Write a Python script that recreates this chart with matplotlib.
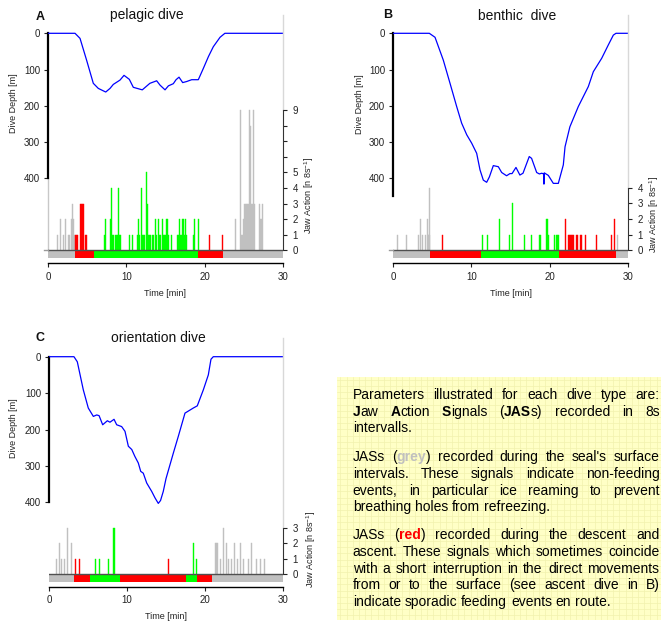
import matplotlib
matplotlib.use('Agg')
import matplotlib.pyplot as plt
import numpy as np

plt.rcParams['font.family'] = ['Liberation Sans', 'DejaVu Sans']
plt.rcParams['mathtext.default'] = 'regular'

W, H = 661, 623
fig = plt.figure(figsize=(W / 100, H / 100), dpi=100)

# ---------------- data ----------------
panel_letters = ['A', 'B', 'C']
panel_titles = ['pelagic dive', 'benthic  dive', 'orientation dive']
time_ticks = [0, 10, 20, 30]
depth_ticks = [0, 100, 200, 300, 400]
jaw_ticks_A = [0, 1, 2, 3, 4, 5, 6, 7, 8, 9]
jaw_labels_A = ['0', '1', '2', '3', '4', '5', '', '', '', '9']
jaw_ticks_B = [0, 1, 2, 3, 4]
jaw_labels_B = ['0', '1', '2', '3', '4']
jaw_ticks_C = [0, 1, 2, 3]
jaw_labels_C = ['0', '1', '2', '3']

# dive profiles: time [min], depth [m]
A_prof_t = [0, 3.42, 4.06, 4.9, 5.76, 6.4, 7.35, 7.9, 8.32, 9.18, 9.69, 10.37, 10.88,
            12.03, 13.0, 13.87, 14.3, 14.94, 15.37, 16.0, 16.35, 16.73, 17.2, 17.71,
            18.35, 19.2, 19.84, 20.5, 21.12, 21.98, 22.6, 30]
A_prof_d = [0, 0, 14, 74, 138, 152, 162, 152, 141, 129, 116, 127, 149,
            156, 138, 131, 143, 156, 145, 139, 128, 121, 136, 133,
            128, 128, 97, 64, 37, 11, 0, 0]

B_prof_t = [0, 4.61, 5.34, 6.4, 7.26, 8.11, 8.75, 9.4, 10.03, 10.67, 11.1, 11.52, 11.95,
            12.3, 12.8, 13.44, 13.87, 14.5, 14.93, 15.2, 15.7, 16.2, 16.6, 17.4, 17.7,
            18.35, 18.7, 19.0, 19.25, 19.28, 19.32, 19.84, 20.48, 21.12, 21.76, 21.98,
            22.6, 23.68, 24.96, 25.6, 26.67, 27.52, 28.16, 28.5, 30]
B_prof_d = [0, 0, 11, 74, 138, 202, 248, 280, 303, 331, 377, 405, 411,
            396, 365, 368, 384, 393, 387, 387, 370, 391, 386, 340, 345,
            384, 388, 386, 388, 416, 385, 392, 414, 414, 363, 313,
            258, 202, 147, 106, 69, 32, 5, 0, 0]

C_prof_t = [0, 3.17, 3.6, 4.37, 5.01, 5.66, 6.1, 6.4, 6.86, 7.46, 7.8, 8.32, 8.66, 9.3,
            9.73, 10.16, 10.6, 11.0, 11.44, 11.75, 12.08, 12.52, 13.16, 13.59, 14.01,
            14.3, 14.65, 15.0, 15.94, 16.58, 17.44, 18.51, 19.02, 19.8, 20.44, 20.78,
            21.08, 30]
C_prof_d = [0, 0, 14, 91, 141, 164, 160, 162, 187, 176, 180, 172, 187, 192,
            205, 246, 255, 274, 292, 315, 320, 347, 370, 388, 403,
            395, 370, 335, 265, 219, 155, 141, 135, 91, 50, 7,
            0, 0]

# jaw action signals: start time of 8 s interval [min], count
A_grey_t = [1.15, 1.54, 1.93, 2.12, 2.5, 2.7, 2.9, 3.03, 3.16, 3.29,
            23.94, 24.57, 24.72, 24.85, 24.98, 25.11, 25.24, 25.37, 25.5, 25.7, 25.84,
            25.97, 26.1, 26.24, 26.37, 26.97, 27.1, 27.23, 27.36]
A_grey_h = [1, 2, 1, 2, 1, 1, 2, 3, 2, 1,
            2, 9, 1, 1, 2, 3, 3, 3, 3, 9, 8,
            3, 3, 9, 3, 3, 2, 2, 3]
A_red_t = [3.47, 3.6, 3.73, 4.1, 4.23, 4.36, 4.49, 4.66, 4.82, 20.53, 22.19]
A_red_h = [1, 1, 1, 3, 3, 3, 3, 1, 1, 1, 1]
A_green_t = [7.17, 7.3, 7.94, 8.07, 8.2, 8.33, 8.6, 8.73, 8.87, 8.95, 9.1, 9.23, 10.33,
             10.75, 11.35, 11.52, 11.65, 11.9, 12.03, 12.17, 12.3, 12.5, 12.63, 12.77,
             12.9, 13.03, 13.3, 13.43, 13.7, 13.83, 14.08, 14.21, 14.34, 14.5, 14.63,
             14.76, 14.93, 15.07, 15.2, 15.33, 15.74, 16.47, 16.6, 16.73, 16.86, 16.99,
             17.12, 17.25, 17.38, 17.5, 17.63, 18.52, 18.69, 19.1]
A_green_h = [1, 2, 2, 4, 1, 1, 1, 1, 1, 4, 1, 1, 1,
             1, 1, 2, 1, 4, 1, 1, 1, 5, 3, 1,
             1, 1, 1, 1, 2, 1, 2, 1, 1, 2, 1,
             1, 1, 2, 2, 1, 1, 1, 1, 2, 1, 1,
             2, 2, 1, 2, 1, 1, 2, 2]
A_phase_edges = [0, 3.4, 5.85, 19.2, 22.3, 30]
A_phase_kind = ['grey', 'red', 'green', 'red', 'grey']

B_grey_t = [0.51, 1.66, 3.2, 3.43, 3.7, 4.06, 4.25, 4.38, 4.5, 4.62, 28.6]
B_grey_h = [1, 1, 1, 2, 1, 1, 2, 1, 1, 4, 1]
B_red_t = [6.27, 22.02, 22.36, 22.5, 22.63, 22.76, 22.9, 23.03, 23.34, 23.55, 23.86,
           23.99, 24.54, 25.98, 27.9, 28.2]
B_red_h = [1, 2, 1, 1, 1, 1, 1, 1, 1, 1, 1, 1, 1, 1, 1, 2]
B_green_t = [11.35, 12.03, 13.47, 14.8, 15.13, 16.69, 17.67, 18.7, 18.83, 19.5, 19.63,
             19.76, 20.53, 20.79, 20.92, 21.05]
B_green_h = [1, 1, 2, 1, 3, 1, 1, 1, 1, 2, 2, 1, 1, 1, 1, 1]
B_phase_edges = [0, 4.7, 11.22, 21.17, 28.46, 30]
B_phase_kind = ['grey', 'red', 'green', 'red', 'grey']

C_grey_t = [0.9, 1.29, 1.55, 1.93, 2.25, 2.75,
            21.3, 21.45, 21.6, 21.94, 22.3, 22.7, 23.0, 23.4, 23.75, 24.1, 24.5, 24.9,
            25.5, 25.9, 26.6, 27.1, 27.6]
C_grey_h = [1, 2, 1, 1, 3, 2,
            2, 2, 2, 1, 3, 2, 1, 1, 2, 1, 2, 1,
            1, 2, 1, 1, 1]
C_red_t = [3.33, 3.84, 15.24]
C_red_h = [1, 1, 1]
C_green_t = [5.87, 6.36, 7.58, 8.25, 18.5, 18.8]
C_green_h = [1, 1, 1, 3, 2, 1]
C_phase_edges = [0, 3.17, 5.23, 9.09, 17.57, 18.98, 20.87, 30]
C_phase_kind = ['grey', 'red', 'green', 'red', 'green', 'red', 'grey']

COL = {'grey': '#C0C0C0', 'red': '#FF0000', 'green': '#00FF00'}
INTERVAL = 8 / 60.0  # 8 s in minutes


def fx(px):
    return px / W


def fy(py):
    return 1 - py / H


def panel(x0, x1, top, d0y, ppm, j0y, ppu, bottom, depth_end,
          prof_t, prof_d, bars, edges, kinds, jticks, jlabels, left_stub, grey_stem):
    ax = fig.add_axes([fx(x0), fy(bottom), (x1 - x0) / W, (bottom - top) / H])
    ax.set_xlim(0, 30)
    ax.set_ylim((bottom - d0y) / ppm, (top - d0y) / ppm)
    ax.patch.set_visible(False)
    ax.plot(prof_t, prof_d, color='#0000FF', lw=0.9, zorder=3)
    for s in ['top', 'right']:
        ax.spines[s].set_visible(False)
    ax.spines['left'].set_bounds(0, depth_end)
    ax.spines['left'].set_linewidth(1.6)
    ax.spines['bottom'].set_bounds(0, 30)
    ax.spines['bottom'].set_linewidth(1.0)
    ax.set_xticks(time_ticks)
    ax.set_yticks(depth_ticks)
    ax.tick_params(axis='both', direction='out', length=3, width=0.8,
                   labelsize=7, pad=3, colors='#222222')
    if grey_stem:
        dz = (j0y - d0y) / ppm
        ax.plot([0, 0], [400, dz], color='#C8C8C8', lw=1.0, clip_on=False, zorder=1)

    ax2 = ax.twinx()
    ax2.set_ylim((j0y - bottom) / ppu, (j0y - top) / ppu)
    for s in ['top', 'left', 'bottom']:
        ax2.spines[s].set_visible(False)
    ax2.spines['right'].set_bounds(0, jticks[-1])
    ax2.spines['right'].set_color('#333333')
    ax2.set_yticks(jticks)
    ax2.set_yticklabels(jlabels)
    ax2.tick_params(axis='y', direction='out', length=3, width=0.8,
                    labelsize=7, pad=4, colors='#222222')
    # phase strip
    for a, b, k in zip(edges[:-1], edges[1:], kinds):
        ax2.bar(a, 0.47, width=b - a, bottom=-0.47, align='edge',
                color=COL[k], lw=0, zorder=2)
    # jaw action bars
    for (tt, hh, k) in bars:
        ax2.bar(tt, hh, width=INTERVAL, align='edge', color=COL[k],
                edgecolor=COL[k], lw=0.3, zorder=2)
    ax2.plot([0, 30], [0, 0], color='#505050', lw=1.0, zorder=3)
    if left_stub:
        ax2.plot([-0.6, 0], [0, 0], color='#999999', lw=1.0, clip_on=False, zorder=3)
    # light line above the jaw axis
    ax2.plot([30, 30], [jticks[-1], (j0y - (top + 5)) / ppu], color='#D8D8D8',
             lw=1.0, clip_on=False, zorder=1)
    return ax, ax2


panel(48.3, 282.7, 10, 33.3, 0.3625, 250.3, 15.6, 263.3, 400,
      A_prof_t, A_prof_d,
      [(A_grey_t, A_grey_h, 'grey'), (A_red_t, A_red_h, 'red'), (A_green_t, A_green_h, 'green')],
      A_phase_edges, A_phase_kind, jaw_ticks_A, jaw_labels_A, True, True)
panel(393.3, 627.7, 10, 33.3, 0.3625, 250.3, 15.65, 263.3, 450,
      B_prof_t, B_prof_d,
      [(B_grey_t, B_grey_h, 'grey'), (B_red_t, B_red_h, 'red'), (B_green_t, B_green_h, 'green')],
      B_phase_edges, B_phase_kind, jaw_ticks_B, jaw_labels_B, True, False)
panel(49.3, 282.7, 333, 356.7, 0.364, 574.3, 15.55, 586.7, 400,
      C_prof_t, C_prof_d,
      [(C_grey_t, C_grey_h, 'grey'), (C_red_t, C_red_h, 'red'), (C_green_t, C_green_h, 'green')],
      C_phase_edges, C_phase_kind, jaw_ticks_C, jaw_labels_C, False, False)

# ---------------- panel texts ----------------
title_pos = [(147, 15), (516.7, 16), (158.3, 338.3)]
letter_pos = [(40, 17), (387.5, 15.5), (40, 338)]
for (tx, ty), t in zip(title_pos, panel_titles):
    fig.text(fx(tx), fy(ty), t, ha='center', va='center', fontsize=10, color='#111111')
for (tx, ty), t in zip(letter_pos, panel_letters):
    fig.text(fx(tx), fy(ty), t, ha='center', va='center', fontsize=9,
             fontweight='bold', color='#111111')

for (tx, ty) in [(13, 103.5), (359.3, 104), (13, 428)]:
    fig.text(fx(tx), fy(ty), 'Dive Depth [m]', rotation=90, ha='center', va='center',
             fontsize=6.5, color='#222222')
for (tx, ty) in [(309, 195), (654.5, 214), (311, 549)]:
    fig.text(fx(tx), fy(ty), 'Jaw Action [n 8s$^{-1}$]', rotation=90, ha='center',
             va='center', fontsize=6.5, color='#222222')
for (tx, ty) in [(165.5, 294), (510.8, 294), (166, 616.7)]:
    fig.text(fx(tx), fy(ty), 'Time [min]', ha='center', va='center', fontsize=6.5,
             color='#222222')

# ---------------- yellow note box ----------------
bx0, by0, bx1, by1 = 337.3, 376.7, 661, 620
box = fig.add_axes([fx(bx0), fy(by1), (bx1 - bx0) / W, (by1 - by0) / H])
box.set_xlim(0, bx1 - bx0)
box.set_ylim(by1 - by0, 0)
box.set_facecolor('#FFFFC6')
for s in box.spines.values():
    s.set_visible(False)
box.set_xticks([])
box.set_yticks([])
for gx in np.arange(3, bx1 - bx0, 6.2):
    box.axvline(gx, color='#F2F2AE', lw=0.5)
for gy in np.arange(3, by1 - by0, 6.2):
    box.axhline(gy, color='#F2F2AE', lw=0.5)

paragraphs = [
    ["Parameters illustrated for each dive type are:",
     "*J*aw *A*ction *S*ignals (*JAS*s) recorded in 8s",
     "intervalls."],
    ["JASs (#grey#) recorded during the seal's surface",
     "intervals. These signals indicate non-feeding",
     "events, in particular ice reaming to prevent",
     "breathing holes from refreezing."],
    ["JASs (!red!) recorded during the descent and",
     "ascent. These signals which sometimes coincide",
     "with a short interruption in the direct movements",
     "from or to the surface (see ascent dive in B)",
     "indicate sporadic feeding events en route."],
]
baselines = [[399, 415.7, 432.3], [461.3, 478, 494.7, 511.3],
             [539.3, 556, 572.7, 589.3, 606]]
TX0, TX1 = 352.7, 659.5

renderer = fig.canvas.get_renderer()


def measure(s, fs, weight='normal'):
    t = fig.text(0, 0, s, fontsize=fs, fontweight=weight)
    w = t.get_window_extent(renderer).width
    t.remove()
    return w


fs = 9 * 199.0 / measure("breathing holes from refreezing.", 9)
fs = min(max(fs, 8), 10)
space_w = measure("x x", fs) - measure("xx", fs)

STYLE = {'n': ('normal', '#000000'), '*': ('bold', '#000000'),
         '#': ('bold', '#C0C0C0'), '!': ('bold', '#FF0000')}


def parse_word(word):
    segs, cur, mode = [], '', 'n'
    for ch in word:
        if ch in '*#!':
            if cur:
                segs.append((cur, mode))
            cur = ''
            mode = ch if mode == 'n' else 'n'
        else:
            cur += ch
    if cur:
        segs.append((cur, mode))
    return segs


for lines, bls in zip(paragraphs, baselines):
    for i, (line, bl) in enumerate(zip(lines, bls)):
        words = [parse_word(w) for w in line.split(' ')]
        widths = []
        for segs in words:
            widths.append([measure(s, fs, STYLE[m][0]) for s, m in segs])
        totals = [sum(w) for w in widths]
        last = (i == len(lines) - 1)
        if last or len(words) == 1:
            gap = space_w
        else:
            gap = (TX1 - TX0 - sum(totals)) / (len(words) - 1)
        x = TX0
        for segs, ws in zip(words, widths):
            for (s, m), w in zip(segs, ws):
                weight, col = STYLE[m]
                fig.text(fx(x), fy(bl), s, fontsize=fs, fontweight=weight, color=col,
                         ha='left', va='baseline')
                x += w
            x += gap

fig.savefig('out.png', dpi=100)
